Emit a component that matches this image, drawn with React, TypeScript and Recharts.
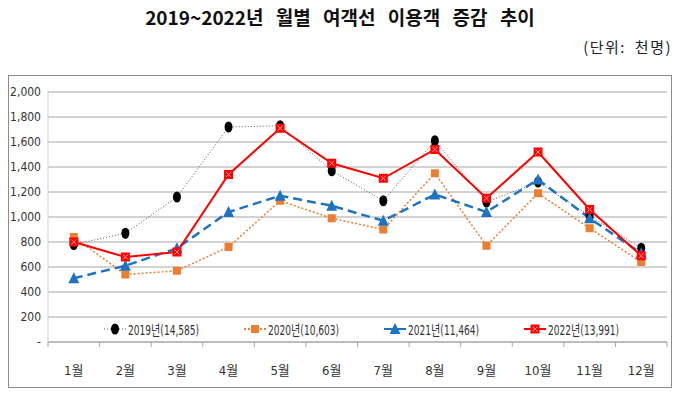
import { LineChart, Line, XAxis, YAxis, CartesianGrid, Legend } from 'recharts';

const months = ['1월', '2월', '3월', '4월', '5월', '6월', '7월', '8월', '9월', '10월', '11월', '12월'];
const y2019 = [780, 870, 1160, 1720, 1730, 1370, 1130, 1610, 1120, 1280, 1010, 750];
const y2020 = [840, 540, 570, 760, 1130, 990, 900, 1350, 770, 1190, 910, 640];
const y2021 = [510, 610, 750, 1040, 1170, 1090, 970, 1180, 1040, 1300, 990, 710];
const y2022 = [800, 680, 720, 1340, 1710, 1430, 1310, 1540, 1150, 1520, 1060, 690];
const yTicks = [0, 200, 400, 600, 800, 1000, 1200, 1400, 1600, 1800, 2000];

const seriesInfo = [
  { key: 'y2019', name: '2019년(14,585)', color: '#000000', line: '#595959' },
  { key: 'y2020', name: '2020년(10,603)', color: '#ed7d31', line: '#ed7d31' },
  { key: 'y2021', name: '2021년(11,464)', color: '#1f72c0', line: '#1f72c0' },
  { key: 'y2022', name: '2022년(13,991)', color: '#ff0000', line: '#ff0000' },
];

const data = months.map((m, i) => ({
  month: m,
  y2019: y2019[i],
  y2020: y2020[i],
  y2021: y2021[i],
  y2022: y2022[i],
}));

const NARROW = "'DejaVu Sans Condensed', 'Noto Sans CJK KR', sans-serif";

const CHART_W = 662;
const CHART_H = 311;
const MARGIN = { top: 16, right: 4, left: 0, bottom: 0 };
const Y_W = 39;

function Marker({ k, cx, cy }: { k: string; cx: number; cy: number }) {
  if (k === 'y2019') return <ellipse cx={cx} cy={cy} rx={4} ry={5.5} fill="#000" />;
  if (k === 'y2020') return <rect x={cx - 4} y={cy - 4} width={8} height={8} fill="#ed7d31" />;
  if (k === 'y2021')
    return <path d={`M${cx},${cy - 6} L${cx + 5.5},${cy + 5} L${cx - 5.5},${cy + 5} Z`} fill="#1f72c0" />;
  return (
    <g>
      <rect x={cx - 4.5} y={cy - 4.5} width={9} height={9} fill="#ff0000" />
      <path d={`M${cx - 2.5},${cy - 2.5} L${cx + 2.5},${cy + 2.5} M${cx + 2.5},${cy - 2.5} L${cx - 2.5},${cy + 2.5}`} stroke="#ff9a9a" strokeWidth={1} />
    </g>
  );
}

const makeDot = (k: string) => (p: any) => {
  if (p.cx == null || p.cy == null) return <g key={p.key} />;
  return <Marker key={p.key} k={k} cx={p.cx} cy={p.cy} />;
};

function MonthTick(props: any) {
  const { x, y, payload, index } = props;
  const plotW = CHART_W - MARGIN.left - MARGIN.right - Y_W;
  const half = plotW / months.length / 2;
  const cx = x + (payload.offset ? payload.offset - half : 0);
  return (
    <g>
      <line x1={cx - half} y1={y} x2={cx - half} y2={y + 5} stroke="#a6a6a6" />
      {index === months.length - 1 && <line x1={cx + half} y1={y} x2={cx + half} y2={y + 5} stroke="#a6a6a6" />}
      <text x={cx} y={y + 33} textAnchor="middle" fontSize={13} fontFamily={NARROW} fill="#333">
        {payload.value}
      </text>
    </g>
  );
}

function LegendContent() {
  return (
    <div style={{ display: 'flex', fontFamily: NARROW, fontSize: 14, color: '#333', whiteSpace: 'nowrap' }}>
      {seriesInfo.map((s) => (
        <div key={s.key} style={{ width: 140, display: 'flex', alignItems: 'center' }}>
          <svg width={24} height={14}>
            <line
              x1={1}
              y1={7}
              x2={23}
              y2={7}
              stroke={s.line}
              strokeWidth={s.key === 'y2019' ? 1 : 2}
              strokeDasharray={s.key === 'y2019' ? '1 2' : s.key === 'y2020' ? '2 2' : undefined}
            />
            <Marker k={s.key} cx={12} cy={7} />
          </svg>
          <span style={{ marginLeft: 1, display: 'inline-block', transform: 'scaleX(0.72)', transformOrigin: 'left center' }}>
            {s.name}
          </span>
        </div>
      ))}
    </div>
  );
}

export default function App() {
  return (
    <div style={{ width: 664, fontFamily: "'Noto Sans CJK KR', sans-serif" }}>
      <div style={{ height: 67, position: 'relative' }}>
        <div style={{ textAlign: 'center', fontWeight: 700, fontSize: 19, lineHeight: '17px', wordSpacing: 8, color: '#111' }}>
          2019~2022년 월별 여객선 이용객 증감 추이
        </div>
        <div style={{ position: 'absolute', right: 0, top: 28, fontSize: 15, color: '#222', letterSpacing: 1.5, wordSpacing: 4 }}>
          (단위: 천명)
        </div>
      </div>
      <div style={{ width: 664, height: 313, border: '1px solid #8c8c8c', boxSizing: 'border-box' }}>
        <LineChart width={CHART_W} height={CHART_H} data={data} margin={MARGIN}>
          <CartesianGrid vertical={false} stroke="#a6a6a6" />
          <XAxis
            dataKey="month"
            scale="band"
            height={45}
            axisLine={{ stroke: '#a6a6a6' }}
            tickLine={false}
            tickSize={0}
            tickMargin={0}
            interval={0}
            tick={<MonthTick />}
          />
          <YAxis
            width={Y_W}
            domain={[0, 2000]}
            ticks={yTicks}
            interval={0}
            axisLine={{ stroke: '#d0d0d0' }}
            tickLine={false}
            tickSize={0}
            tickMargin={7}
            tick={{ fontSize: 12, fontFamily: NARROW, fill: '#333' }}
            tickFormatter={(v: number) => (v === 0 ? '-' : v.toLocaleString('en-US'))}
          />
          <Legend
            verticalAlign="middle"
            align="center"
            content={<LegendContent />}
            wrapperStyle={{ top: 243, left: 94, width: 'auto' }}
          />
          <Line dataKey="y2019" name={seriesInfo[0].name} stroke="#595959" strokeWidth={1} strokeDasharray="1 2" dot={makeDot('y2019')} isAnimationActive={false} />
          <Line dataKey="y2020" name={seriesInfo[1].name} stroke="#ed7d31" strokeWidth={1.5} strokeDasharray="2 2" dot={makeDot('y2020')} isAnimationActive={false} />
          <Line dataKey="y2021" name={seriesInfo[2].name} stroke="#1f72c0" strokeWidth={2.5} strokeDasharray="9 5" dot={makeDot('y2021')} isAnimationActive={false} />
          <Line dataKey="y2022" name={seriesInfo[3].name} stroke="#ff0000" strokeWidth={2} dot={makeDot('y2022')} isAnimationActive={false} />
        </LineChart>
      </div>
    </div>
  );
}
